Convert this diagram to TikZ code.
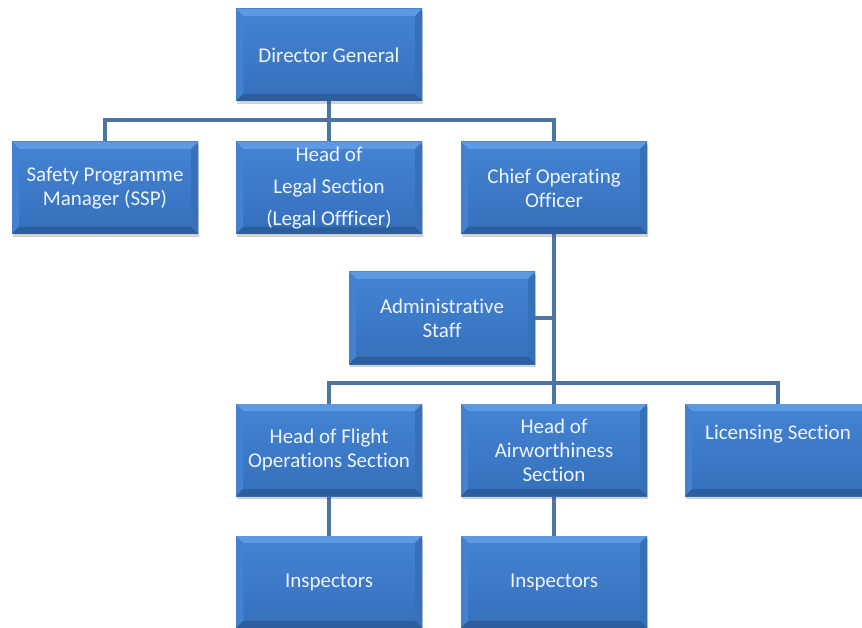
\documentclass[tikz,border=0pt]{standalone}
\usepackage{fontspec}
\setmainfont[Ligatures=NoCommon]{Carlito}
\usetikzlibrary{shadows,backgrounds}
\definecolor{faceTop}{HTML}{4484D3}
\definecolor{faceBot}{HTML}{356FBB}
\definecolor{bevTop}{HTML}{5D9AE3}
\definecolor{bevLeft}{HTML}{4283D1}
\definecolor{bevRight}{HTML}{3570BA}
\definecolor{bevBot}{HTML}{2C5E9E}
\definecolor{lineC}{HTML}{4D74A6}
\definecolor{txtC}{HTML}{EEF4FC}
\tikzset{
  orgbox/.style={rectangle, minimum width=186pt, minimum height=92pt, inner sep=0pt,
    top color=faceTop, bottom color=faceBot, text=txtC, align=center,
    font=\fontsize{21}{24}\selectfont,
    drop shadow={shadow xshift=1pt, shadow yshift=-3pt, opacity=0.25, fill=black!70},
    path picture={
      \def\bv{7pt}
      \coordinate (nw) at (path picture bounding box.north west);
      \coordinate (ne) at (path picture bounding box.north east);
      \coordinate (sw) at (path picture bounding box.south west);
      \coordinate (se) at (path picture bounding box.south east);
      \fill[bevTop] (nw) -- (ne) -- ([xshift=-\bv,yshift=-\bv]ne) -- ([xshift=\bv,yshift=-\bv]nw) -- cycle;
      \fill[bevLeft] (nw) -- ([xshift=\bv,yshift=-\bv]nw) -- ([xshift=\bv,yshift=\bv]sw) -- (sw) -- cycle;
      \fill[bevRight] (ne) -- ([xshift=-\bv,yshift=-\bv]ne) -- ([xshift=-\bv,yshift=\bv]se) -- (se) -- cycle;
      \fill[bevBot] (sw) -- ([xshift=\bv,yshift=\bv]sw) -- ([xshift=-\bv,yshift=\bv]se) -- (se) -- cycle;
    }},
  conn/.style={draw=lineC, line width=4.5pt}
}
\begin{document}
\begin{tikzpicture}[x=1pt,y=-1pt]
\useasboundingbox (0,0) rectangle (862,628);
\clip (0,0) rectangle (862,628);
\node[orgbox] (dg) at (329,55) {Director General};
\node[orgbox] (ssp) at (105,188) {Safety Programme\\Manager (SSP)};
\node[orgbox] (legal) at (329,188) {Head of\\[8pt]Legal Section\\[8pt](Legal Offficer)};
\node[orgbox] (coo) at (554,188) {Chief Operating\\Officer};
\node[orgbox] (adm) at (442,318) {Administrative\\Staff};
\node[orgbox] (flt) at (329,450) {Head of Flight\\Operations Section};
\node[orgbox] (air) at (554,450) {Head of\\Airworthiness\\Section};
\node[orgbox] (lic) at (778,450) {};
\node[text=txtC, font=\fontsize{21}{24}\selectfont] (lictxt) at (778,434) {Licensing Section};
\node[orgbox] (ins1) at (329,582) {Inspectors};
\node[orgbox] (ins2) at (554,582) {Inspectors};
\begin{scope}[on background layer]
\fill[white] (0,0) rectangle (862,628);
\coordinate (j1) at (329,120);
\coordinate (j2) at (554,383);
\draw[conn] (dg.south) -- (j1) -| (ssp.north);
\draw[conn] (j1) -| (coo.north);
\draw[conn] (j1) -- (legal.north);
\draw[conn] (coo.south) -- (j2);
\draw[conn] (adm.east) -- (adm.east -| coo.south);
\draw[conn] (j2) -| (flt.north);
\draw[conn] (j2) -| (lic.north);
\draw[conn] (j2) -- (air.north);
\draw[conn] (flt.south) -- (ins1.north);
\draw[conn] (air.south) -- (ins2.north);
\end{scope}
\end{tikzpicture}
\end{document}
